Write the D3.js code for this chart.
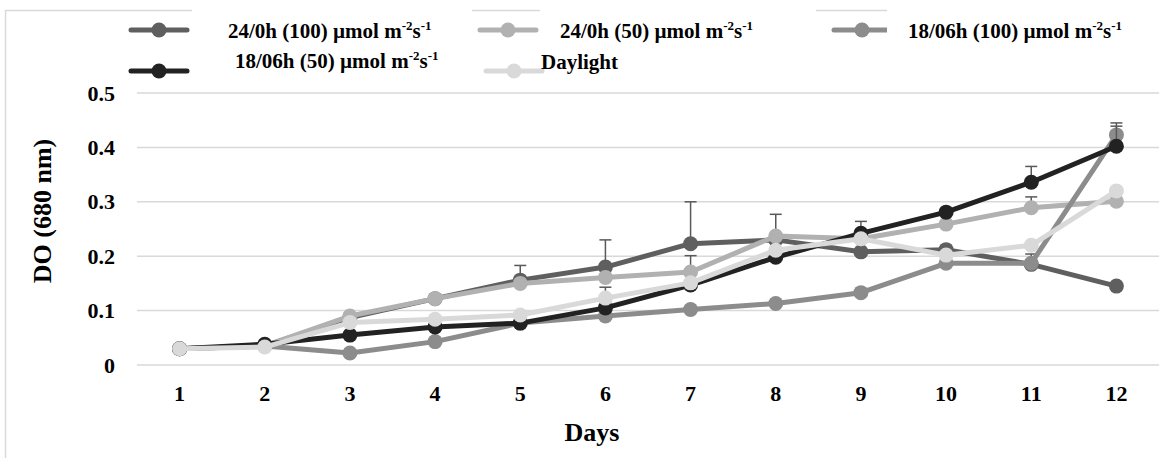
<!DOCTYPE html>
<html>
<head>
<meta charset="utf-8">
<script src="https://cdn.jsdelivr.net/npm/d3@7"></script>
<style>
  body { margin: 0; background: #fff; }
  text { font-family: "Liberation Serif", "Times New Roman", serif; font-weight: bold; fill: #000; }
</style>
</head>
<body>
<div id="chart"></div>
<script>
// values
const days = ["1", "2", "3", "4", "5", "6", "7", "8", "9", "10", "11", "12"];
const yTicks = [0, 0.1, 0.2, 0.3, 0.4, 0.5];

const s24_100 = [0.030, 0.035, 0.087, 0.122, 0.156, 0.180, 0.223, 0.230, 0.208, 0.212, 0.185, 0.145];
const s24_50  = [0.030, 0.035, 0.090, 0.122, 0.150, 0.161, 0.171, 0.237, 0.232, 0.259, 0.289, 0.301];
const s18_100 = [0.030, 0.035, 0.022, 0.043, 0.077, 0.090, 0.102, 0.113, 0.133, 0.187, 0.187, 0.423];
const s18_50  = [0.030, 0.038, 0.055, 0.070, 0.077, 0.105, 0.147, 0.198, 0.242, 0.281, 0.336, 0.402];
const daylight = [0.030, 0.033, 0.078, 0.084, 0.092, 0.123, 0.151, 0.211, 0.232, 0.202, 0.220, 0.320];

// upper error bars (null = none shown)
const e24_100 = [null, null, null, null, 0.027, 0.050, 0.077, null, null, null, 0.019, null];
const e24_50  = [null, null, null, null, null, null, 0.030, 0.040, null, null, 0.020, null];
const e18_100 = [null, null, null, null, null, null, null, null, null, null, null, 0.022];
const e18_50  = [null, null, null, null, null, null, null, null, 0.022, null, 0.029, 0.037];
const eDaylight = [null, null, null, null, null, 0.020, null, null, null, null, null, null];

const series = [
  { name: "24/0h (100)", values: s24_100, err: e24_100, color: "#5f5f5f" },
  { name: "24/0h (50)", values: s24_50, err: e24_50, color: "#b1b1b1" },
  { name: "18/06h (100)", values: s18_100, err: e18_100, color: "#8c8c8c" },
  { name: "18/06h (50)", values: s18_50, err: e18_50, color: "#222222" },
  { name: "Daylight", values: daylight, err: eDaylight, color: "#d9d9d9" }
];

const width = 1166, height = 458;
const svg = d3.select("#chart").append("svg")
  .attr("width", width)
  .attr("height", height);

svg.append("rect").attr("width", width).attr("height", height).attr("fill", "#fff");

// chart frame (right/bottom fall outside the picture)
svg.append("rect")
  .attr("x", 5.5).attr("y", 10.5)
  .attr("width", 1200).attr("height", 500)
  .attr("fill", "none")
  .attr("stroke", "#d9d9d9")
  .attr("stroke-width", 1.5);

let x = d3.scaleBand().domain(days).range([137, 1159]);
let y = d3.scaleLinear().domain([0, 0.5]).range([365, 93]);
let cx = (i) => x(days[i]) + x.bandwidth() / 2;

// gridlines
svg.append("g").selectAll("line.grid")
  .data(yTicks)
  .enter().append("line")
  .classed("grid", true)
  .attr("x1", 137).attr("x2", 1159)
  .attr("y1", (d) => y(d)).attr("y2", (d) => y(d))
  .style("stroke", "#d9d9d9")
  .style("stroke-width", 1.5);

// axes (labels only)
let yAxis = svg.append("g")
  .attr("transform", "translate(122,0)")
  .call(d3.axisLeft(y).tickValues(yTicks).tickSize(0)
    .tickFormat((d) => d === 0 ? "0" : d3.format(".1f")(d)));
yAxis.select(".domain").remove();
yAxis.selectAll("text")
  .attr("x", -7)
  .style("font-family", "'Liberation Serif', serif")
  .style("font-weight", "bold")
  .style("font-size", "22px");

let xAxis = svg.append("g")
  .attr("transform", "translate(0,385)")
  .call(d3.axisBottom(x).tickSize(0));
xAxis.select(".domain").remove();
xAxis.selectAll("text")
  .attr("y", 0)
  .attr("dy", "0.71em")
  .style("font-family", "'Liberation Serif', serif")
  .style("font-weight", "bold")
  .style("font-size", "22px");

// axis titles
svg.append("text")
  .attr("text-anchor", "middle")
  .attr("transform", "translate(51,211) rotate(-90)")
  .style("font-size", "26px")
  .text("DO (680 nm)");

svg.append("text")
  .attr("text-anchor", "middle")
  .attr("x", 592).attr("y", 441)
  .style("font-size", "26px")
  .text("Days");

// series
let line = d3.line()
  .x((d, i) => cx(i))
  .y((d) => y(d));

series.forEach((s) => {
  let g = svg.append("g");
  g.append("path")
    .datum(s.values)
    .attr("d", line)
    .attr("fill", "none")
    .attr("stroke", s.color)
    .attr("stroke-width", 5)
    .attr("stroke-linejoin", "round");

  let errs = s.err.map((e, i) => ({ e: e, i: i, v: s.values[i] })).filter((d) => d.e !== null);
  g.selectAll("line.err")
    .data(errs)
    .enter().append("line")
    .attr("x1", (d) => cx(d.i)).attr("x2", (d) => cx(d.i))
    .attr("y1", (d) => y(d.v)).attr("y2", (d) => y(d.v + d.e))
    .style("stroke", "#595959").style("stroke-width", 1.5);
  g.selectAll("line.cap")
    .data(errs)
    .enter().append("line")
    .attr("x1", (d) => cx(d.i) - 6).attr("x2", (d) => cx(d.i) + 6)
    .attr("y1", (d) => y(d.v + d.e)).attr("y2", (d) => y(d.v + d.e))
    .style("stroke", "#595959").style("stroke-width", 1.5);

  g.selectAll("circle")
    .data(s.values)
    .enter().append("circle")
    .attr("cx", (d, i) => cx(i))
    .attr("cy", (d) => y(d))
    .attr("r", 7.5)
    .attr("fill", s.color);
});

// legend: original entries, then white boxes with retyped labels
let legendMarks = [
  { s: 0, x: 131, y: 30 },
  { s: 1, x: 480, y: 30 },
  { s: 2, x: 834, y: 30 },
  { s: 3, x: 131, y: 71 },
  { s: 4, x: 486, y: 71 }
];
legendMarks.forEach((m) => {
  let c = series[m.s].color;
  svg.append("line")
    .attr("x1", m.x).attr("x2", m.x + 56)
    .attr("y1", m.y).attr("y2", m.y)
    .style("stroke", c).style("stroke-width", 5)
    .style("stroke-linecap", "round");
  svg.append("circle")
    .attr("cx", m.x + 28).attr("cy", m.y).attr("r", 7.5)
    .attr("fill", c);
});

// white overlay boxes
[[192, 280], [540, 276], [887, 279]].forEach((b) => {
  svg.append("rect")
    .attr("x", b[0]).attr("y", 4)
    .attr("width", b[1]).attr("height", 45)
    .attr("fill", "#fff");
});
svg.append("rect").attr("x", 192).attr("y", 49).attr("width", 280).attr("height", 35).attr("fill", "#fff");

let legendText = [
  { t: "24/0h (100) µmol m", x: 228, y: 38, unit: true },
  { t: "24/0h (50) µmol m", x: 560, y: 38, unit: true },
  { t: "18/06h (100) µmol m", x: 908, y: 38, unit: true },
  { t: "18/06h (50) µmol m", x: 235, y: 68, unit: true },
  { t: "Daylight", x: 541, y: 69, unit: false }
];
legendText.forEach((l) => {
  let txt = svg.append("text")
    .attr("x", l.x).attr("y", l.y)
    .style("font-size", "21px");
  txt.append("tspan").text(l.t);
  if (l.unit) {
    txt.append("tspan").attr("dy", -8).style("font-size", "13px").text("-2");
    txt.append("tspan").attr("dy", 8).text("s");
    txt.append("tspan").attr("dy", -8).style("font-size", "13px").text("-1");
  }
});
</script>
</body>
</html>
